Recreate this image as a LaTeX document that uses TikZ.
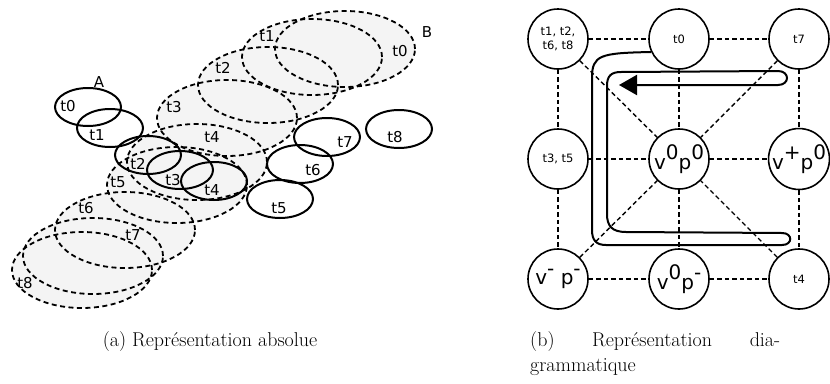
\documentclass[tikz,border=0pt]{standalone}
\usepackage{fontspec}
\newfontfamily\dvsans{DejaVu Sans}
\usepackage{xcolor}
\definecolor{repfill}{HTML}{F4F4F4}
\usetikzlibrary{arrows.meta,positioning}
\tikzset{
  repdash/.style={line width=1.8pt,dash pattern=on 5pt off 3.5pt},
  repsolid/.style={line width=2pt},
  replabel/.style={font=\dvsans\fontsize{15}{15}\selectfont,inner sep=0pt},
  repstate/.style={draw,circle,line width=1.6pt,minimum size=60pt,inner sep=0pt,align=center,font=\dvsans\fontsize{11.5}{13.5}\selectfont},
  repbig/.style={font=\dvsans\fontsize{20}{20}\selectfont},
  replink/.style={line width=1.4pt,dash pattern=on 4.5pt off 3pt},
  repscribble/.style={line width=2pt,-{Triangle[length=18pt,width=20pt]}},
  repcaption/.style={font=\fontsize{20}{25}\selectfont,inner sep=0pt},
}
\newcommand{\vpup}[1]{\raisebox{9.5pt}{#1}}

\begin{document}
\begin{tikzpicture}[x=1pt,y=-1pt]
\useasboundingbox (0,0) rectangle (830,383);
% (a) path B: dashed ellipses
\foreach \cx/\cy in {345/49,312/57,268/85,227/118,197/162,177/185,125/230,93/256,82/270}
  \fill[repfill] (\cx,\cy) ellipse [x radius=70pt,y radius=38pt];
\foreach \cx/\cy in {345/49,312/57,268/85,227/118,197/162,177/185,125/230,93/256,82/270}
  \draw[repdash] (\cx,\cy) ellipse [x radius=70pt,y radius=38pt];
\foreach \lx/\ly/\txt in {400/51/t0,267/36/t1,223/68/t2,174/107/t3,212/137/t4,118/182/t5,86/208/t6,133/235/t7,25/283/t8}
  \node[replabel] at (\lx,\ly) {\txt};
\node[replabel] (labB) at (427,32) {B};
% (a) path A: solid ellipses
\foreach \cx/\cy in {88/107,110/128,148/155,180/170,214/181,280/199,300/164,327/137,399/129}
  \draw[repsolid] (\cx,\cy) ellipse [x radius=33pt,y radius=19pt];
\foreach \lx/\ly/\txt in {68/106/t0,97/135/t1,138/164/t2,173/180/t3,212/190/t4,279/208/t5,313/170/t6,345/142/t7,395/137/t8}
  \node[replabel] at (\lx,\ly) {\txt};
\node[replabel] (labA) at (99,82) {A};

% (b) states
\node[repstate] (s00) at (558,39) {t1, t2,\\t6, t8};
\node[repstate] (s10) at (679,39) {t0};
\node[repstate] (s20) at (799,39) {t7};
\node[repstate] (s01) at (558,159) {t3, t5};
\node[repstate,repbig] (s11) at (679,159) {v\vpup{0}p\vpup{0}};
\node[repstate,repbig] (s21) at (799,159) {v\vpup{+}p\vpup{0}};
\node[repstate,repbig] (s02) at (558,279) {v\vpup{-} p\vpup{-}};
\node[repstate,repbig] (s12) at (679,279) {v\vpup{0}p\vpup{-}};
\node[repstate] (s22) at (799,279) {t4};
\foreach \a/\b in {s00/s10,s10/s20,s01/s11,s11/s21,s02/s12,s12/s22,
                   s00/s01,s01/s02,s10/s11,s11/s12,s20/s21,s21/s22,
                   s00/s11,s20/s11,s02/s11,s22/s11}
  \draw[replink] (\a) -- (\b);

% trajectory
\coordinate (tip) at (619,85);
\draw[repscribble] (s10.205) .. controls (600,53) and (592,55) .. (592,78)
  -- (592,230) .. controls (592,240) and (596,245) .. (606,245)
  -- (782,245) .. controls (793,245) and (793,233) .. (782,233)
  -- (626,232) .. controls (612,232) and (607,226) .. (607,214)
  -- (607,86) .. controls (607,76) and (611,72) .. (621,72)
  -- (778,71) .. controls (790,71) and (790,85) .. (778,85)
  -- (tip);

% captions
\node[repcaption] (capa) at (210,342) {(a) Représentation absolue};
\node[repcaption,anchor=north west,text width=250pt,align=justify] (capb) at (530,331)
  {(b) Représentation dia-\linebreak grammatique};
\end{tikzpicture}
\end{document}
